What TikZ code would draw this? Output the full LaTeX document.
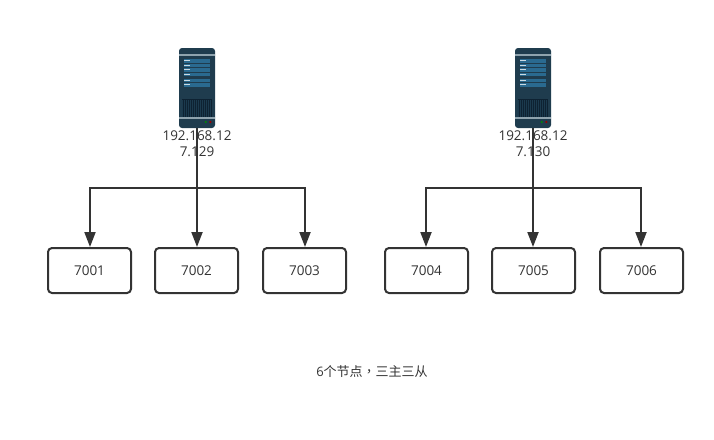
\documentclass[tikz,border=0pt]{standalone}
\usepackage{fontspec}
\setmainfont{Open Sans}
\newfontfamily\cjk{Noto Sans CJK SC}
\newfontfamily\cjktc{Noto Sans CJK TC}
\usetikzlibrary{arrows.meta}
\definecolor{ink}{HTML}{333333}
\definecolor{srvbody}{HTML}{1F3C4E}
\definecolor{srvstrip}{HTML}{8FA3AE}
\definecolor{srvrow}{HTML}{2A6A90}
\definecolor{srvgrill}{HTML}{0E2232}
\definecolor{srvbar}{HTML}{1B3A4E}
\tikzset{
  x=1pt,y=-1pt,
  portbox/.style={draw=ink,line width=2pt,rounded corners=4pt,minimum width=83pt,minimum height=45pt,inner sep=0pt,font=\fontsize{13.5}{16}\selectfont,text=ink,fill=white},
  srvlabel/.style={align=center,inner sep=0pt,text=ink,font=\fontsize{13.5}{16.5}\selectfont},
  srvnode/.style={minimum width=36pt,minimum height=80pt,inner sep=0pt},
  link/.style={draw=ink,line width=2pt},
  arrowlink/.style={link,-{Triangle[length=15pt,width=11pt,fill=ink]}},
  note/.style={inner sep=0pt,text=ink,font=\fontsize{13}{16}\selectfont}
}
\newcommand{\serverart}[1]{%
  \begin{scope}[shift={(#1,48)}]
    \fill[srvbody,rounded corners=3pt] (0,0) rectangle (36,80);
    \fill[srvstrip] (0,6) rectangle (36,7.7);
    \fill[srvstrip] (0,69.3) rectangle (36,71);
    \foreach \y in {11.3,15.7,20.3,24.7,31,35.3}{
      \fill[srvrow] (5,\y) rectangle (31,\y+3.2);
      \fill[white!75!srvrow] (5,\y+1.1) rectangle (11,\y+2.1);
    }
    \fill[srvgrill] (2.7,51.3) rectangle (33,69.3);
    \foreach \i in {0,...,14}{
      \fill[srvbar] (3.4+2*\i,52) rectangle (4.1+2*\i,69);
    }
    \fill[green!55!black] (26.7,74) circle (1.2);
    \fill[red!60!black] (31.3,74) circle (1.2);
  \end{scope}}
\begin{document}
\begin{tikzpicture}
\useasboundingbox (0,0) rectangle (714,439);
\serverart{179}
\serverart{515}
\node[srvnode] (s1) at (197,88) {};
\node[srvnode] (s2) at (533,88) {};
\node[srvlabel] (l1) at (197,143.5) {192.168.12\\7.129};
\node[srvlabel] (l2) at (533,143.5) {192.168.12\\7.130};
\node[portbox] (p1) at (89.5,270.5) {7001};
\node[portbox] (p2) at (196.5,270.5) {7002};
\node[portbox] (p3) at (304.5,270.5) {7003};
\node[portbox] (p4) at (426.5,270.5) {7004};
\node[portbox] (p5) at (533.5,270.5) {7005};
\node[portbox] (p6) at (641.5,270.5) {7006};
\coordinate (j1) at (197,188);
\coordinate (j2) at (533,188);
\draw[arrowlink] (s1.south) -- (j1) -| ([xshift=.5pt]p1.north);
\draw[arrowlink] (s1.south) -- ([xshift=.5pt]p2.north);
\draw[arrowlink] (s1.south) -- (j1) -| ([xshift=.5pt]p3.north);
\draw[arrowlink] (s2.south) -- (j2) -| ([xshift=-.5pt]p4.north);
\draw[arrowlink] (s2.south) -- ([xshift=-.5pt]p5.north);
\draw[arrowlink] (s2.south) -- (j2) -| ([xshift=-.5pt]p6.north);
\node[note] (n) at (372,371.5) {6{\cjk 个节点}{\cjktc ，}{\cjk 三主三从}};
\end{tikzpicture}
\end{document}
